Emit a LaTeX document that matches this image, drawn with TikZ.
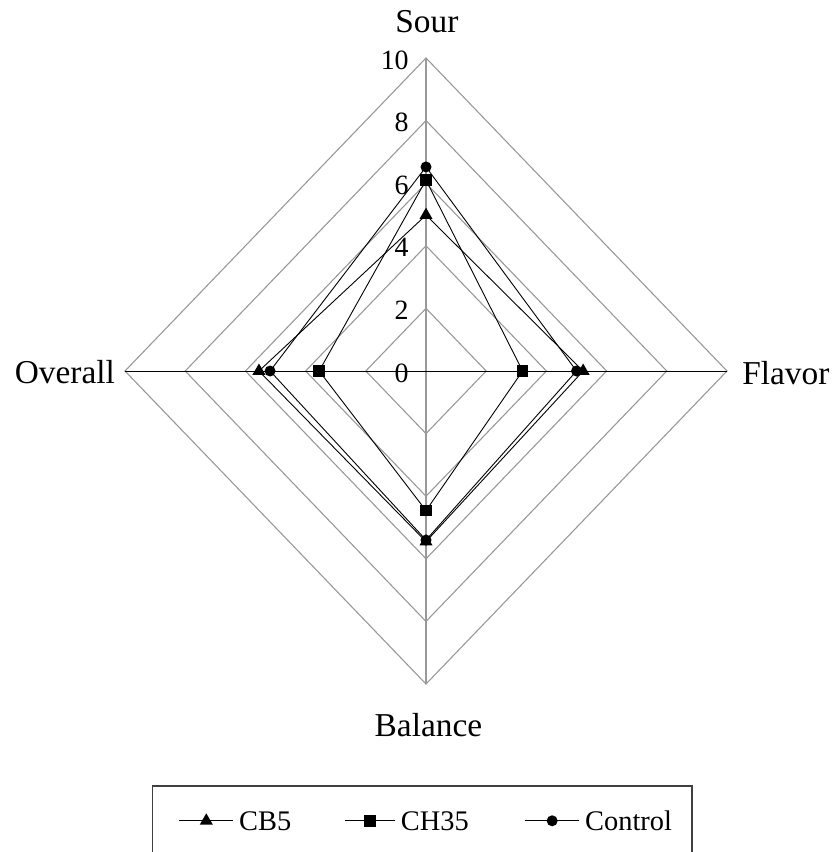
\documentclass[tikz,border=0pt]{standalone}
\usepackage{fontspec}
\setmainfont{Liberation Serif}
\usetikzlibrary{shapes.geometric,calc}

\tikzstyle{gridline}=[draw=gray!80,line width=1.1bp]
\tikzstyle{series}=[draw=black,line width=0.9bp]
\tikzstyle{trimark}=[regular polygon,regular polygon sides=3,fill=black,inner sep=0pt,minimum size=15bp]
\tikzstyle{sqmark}=[rectangle,fill=black,inner sep=0pt,minimum size=11.5bp]
\tikzstyle{dotmark}=[circle,fill=black,inner sep=0pt,minimum size=11bp]
\tikzstyle{axislabel}=[font=\fontsize{33.5}{36}\selectfont,inner sep=0pt]
\tikzstyle{ticklabel}=[font=\fontsize{28}{30}\selectfont,inner sep=0pt,anchor=east]
\tikzstyle{legendlabel}=[font=\fontsize{28.5}{30}\selectfont,inner sep=0pt,anchor=base west]

\begin{document}
\begin{tikzpicture}[x=30.1bp,y=31.3bp]
        \useasboundingbox(-14.153,-15.367) rectangle (13.588,11.853);
        \clip(-14.153,-15.367) rectangle (13.588,11.853);
        %% The grid diamonds
        \foreach \r in {2,4,...,10}
        \draw[gridline](\r,0)--(0,\r)--(-\r,0)--(0,-\r)--cycle;
        \draw[gridline](0,-10)--(0,10);
        \draw[black,line width=1bp](-10,0)--(10,0);
        %%% Scale numbers
        \foreach \v in {0,2,...,10}
        \node[ticklabel] (tick-\v) at (-0.57,\v-0.06) {\v};
        %%% Axis names
        \node[axislabel,anchor=base] (sour) at (0.03,10.80) {Sour};
        \node[axislabel,anchor=base west] (flavor) at (10.50,-0.447) {Flavor};
        \node[axislabel,anchor=base] (balance) at (0.08,-11.69) {Balance};
        \node[axislabel,anchor=base east] (overall) at (-10.33,-0.415) {Overall};

        %% The three series
        \foreach \name/\s/\f/\b/\o/\mk in {cb5/4.98/5.22/5.45/5.55/trimark,ch35/6.10/3.21/4.46/3.55/sqmark,ctrl/6.52/5.0/5.40/5.18/dotmark}
        {
        \coordinate (\name-sour) at (0,\s);
        \coordinate (\name-flavor) at (\f,0);
        \coordinate (\name-balance) at (0,-\b);
        \coordinate (\name-overall) at (-\o,0);
        \draw[series](\name-sour)--(\name-flavor)--(\name-balance)--(\name-overall)--cycle;
        \foreach \p in {sour,flavor,balance,overall}
        \node[\mk] (\name-\p-mk) at (\name-\p) {};
        }

        %% Legend
        \draw[draw=black!75,line width=1.3bp](-9.086,-13.259) rectangle (8.837,-16);
        \foreach \name/\xa/\xb/\txt/\mk in {cb5/-8.196/-6.402/CB5/trimark,ch35/-2.691/-1.03/CH35/sqmark,ctrl/3.289/5.093/Control/dotmark}
        {
        \coordinate (lg-\name-a) at (\xa,-14.37);
        \coordinate (lg-\name-b) at (\xb,-14.37);
        \draw[series](lg-\name-a)--(lg-\name-b);
        \node[\mk] (lg-\name-mk) at ($(lg-\name-a)!0.5!(lg-\name-b)$) {};
        \node[legendlabel] (lg-\name-txt) at (\xb+0.19,-14.69) {\txt};
        }
\end{tikzpicture}
\end{document}
